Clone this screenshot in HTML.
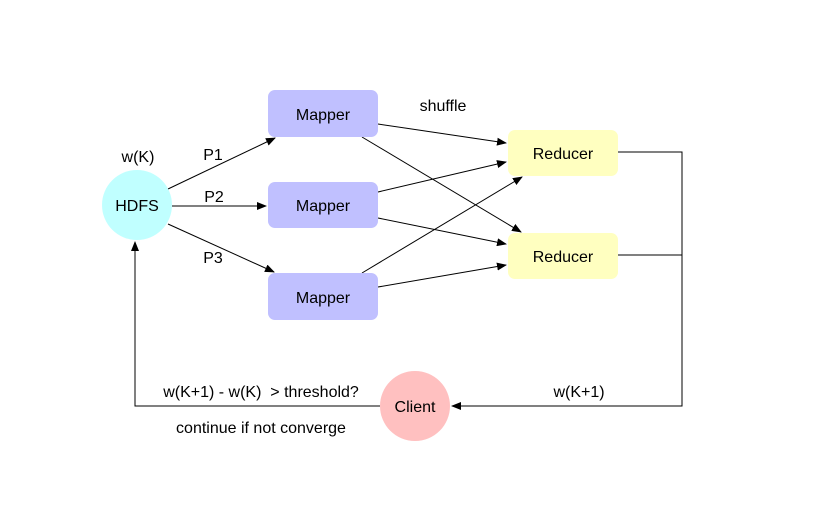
<!DOCTYPE html>
<html><head><style>body{margin:0;background:#fff}</style></head><body>
<svg width="819" height="527" xmlns="http://www.w3.org/2000/svg" font-family="Liberation Sans, sans-serif" font-size="16">
<defs><marker id="a" markerWidth="10" markerHeight="8" refX="9" refY="4" orient="auto" markerUnits="userSpaceOnUse"><path d="M0,0L10,4L0,8z" fill="#000"/></marker></defs>
<g stroke="#000" stroke-width="1" fill="none">
<line x1="168" y1="189" x2="275" y2="138" marker-end="url(#a)"/>
<line x1="172" y1="206" x2="266" y2="206" marker-end="url(#a)"/>
<line x1="168" y1="224" x2="274" y2="272" marker-end="url(#a)"/>
<line x1="378" y1="124" x2="506" y2="143" marker-end="url(#a)"/>
<line x1="362" y1="137" x2="521" y2="232" marker-end="url(#a)"/>
<line x1="378" y1="192" x2="506" y2="162" marker-end="url(#a)"/>
<line x1="378" y1="218" x2="506" y2="244" marker-end="url(#a)"/>
<line x1="362" y1="273" x2="522" y2="177" marker-end="url(#a)"/>
<line x1="378" y1="287" x2="506" y2="265" marker-end="url(#a)"/>
<polyline points="618,152 682,152 682,406 452,406" marker-end="url(#a)"/>
<line x1="618" y1="255" x2="682" y2="255"/>
<polyline points="380,406 135,406 135,242" marker-end="url(#a)"/>
</g>
<circle cx="137" cy="205" r="35" fill="#c0ffff"/>
<circle cx="415" cy="406" r="35" fill="#ffc0c0"/>
<g fill="#c0c0ff"><rect x="268" y="90" width="110" height="47" rx="7"/><rect x="268" y="182" width="110" height="46" rx="7"/><rect x="268" y="273" width="110" height="47" rx="7"/></g>
<g fill="#ffffc0"><rect x="508" y="130" width="110" height="46" rx="7"/><rect x="508" y="233" width="110" height="46" rx="7"/></g>
<g text-anchor="middle">
<text x="137" y="211">HDFS</text><text x="415" y="412">Client</text>
<text x="323" y="120">Mapper</text><text x="323" y="211">Mapper</text><text x="323" y="303">Mapper</text>
<text x="563" y="159">Reducer</text><text x="563" y="262">Reducer</text>
<text x="138" y="162">w(K)</text><text x="213" y="160">P1</text><text x="214" y="202">P2</text><text x="213" y="263">P3</text>
<text x="443" y="111">shuffle</text><text x="579" y="397">w(K+1)</text>
<text x="261" y="397" style="white-space:pre" xml:space="preserve">w(K+1) - w(K)  &gt; threshold?</text>
<text x="261" y="433">continue if not converge</text>
</g>
</svg>
</body></html>
